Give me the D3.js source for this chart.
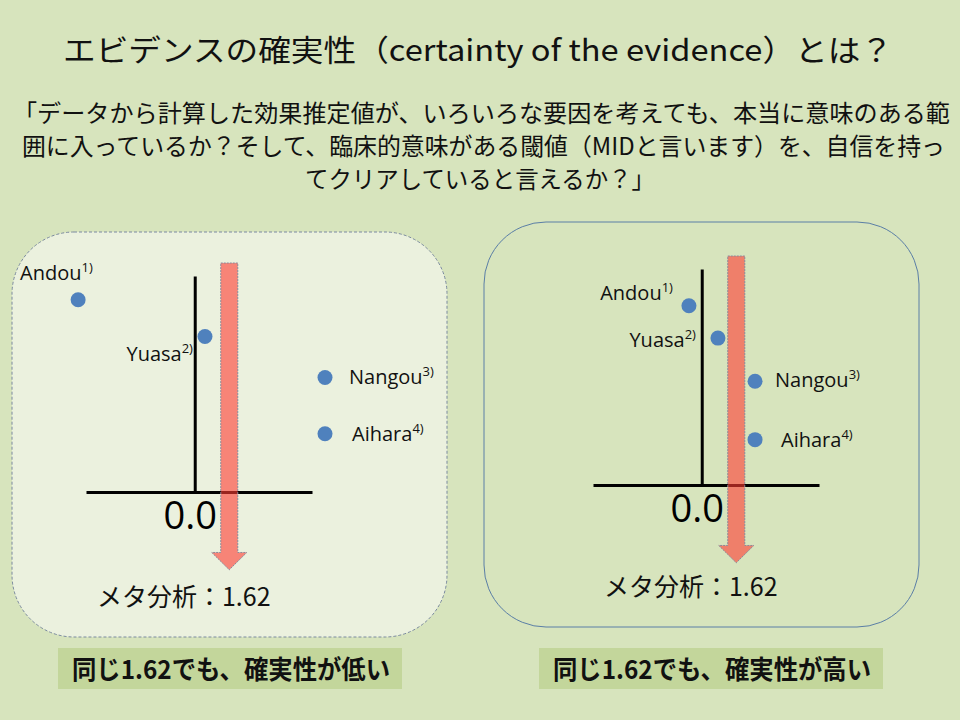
<!DOCTYPE html>
<html>
    <head>
        <meta charset="utf-8">
        <title>エビデンスの確実性</title>
        <script src="https://cdn.jsdelivr.net/npm/d3@7"></script>
        <style>
            body { margin: 0; background: #d7e4bd; }
            svg { display: block; }
        </style>
    </head>
    <body>
        <svg id="svg"></svg>

        <script>
            var WIDTH = 960;
            var HEIGHT = 720;
            var JP = "'Noto Sans CJK JP', sans-serif";
            var EN = "'Open Sans', sans-serif";

            // data
            var studies = ["Andou", "Yuasa", "Nangou", "Aihara"];
            var refs = ["1)", "2)", "3)", "4)"];
            var lowEffects = [-5.47, 0.48, 6.11, 6.11];   // left panel: spread out
            var lowRows = [1.1, 2.8, 4.7, 7.3];
            var highEffects = [-0.6, 0.76, 2.5, 2.5];     // right panel: close together
            var highRows = [1.7, 3.2, 5.2, 7.9];
            var metaValue = 1.62;
            var axisTicks = [0];
            var xDomain = [-5.1, 5.5];
            var yDomain = [0, 10];

            var title = "エビデンスの確実性（certainty of the evidence）とは？";
            var quoteLines = [
                "「データから計算した効果推定値が、いろいろな要因を考えても、本当に意味のある範",
                "囲に入っているか？そして、臨床的意味がある閾値（MIDと言います）を、自信を持っ",
                "てクリアしていると言えるか？」"
            ];
            var captions = ["同じ1.62でも、確実性が低い", "同じ1.62でも、確実性が高い"];

            var svg = d3.select('#svg')
                        .attr('width', WIDTH)
                        .attr('height', HEIGHT);

            svg.append('rect')
               .attr('width', WIDTH).attr('height', HEIGHT)
               .attr('fill', '#d7e4bd');

            svg.append('text')
               .text(title)
               .attr('x', 63).attr('y', 61)
               .attr('textLength', 830).attr('lengthAdjust', 'spacingAndGlyphs')
               .attr('font-family', JP).attr('font-size', '30px')
               .attr('fill', '#111');

            var quoteX = [13, 22, 305];
            var quoteW = [937, 923, 350];
            svg.selectAll('text.quote')
               .data(quoteLines)
               .enter()
               .append('text')
               .attr('class', 'quote')
               .text(function(d){ return d; })
               .attr('x', function(d,i){ return quoteX[i]; })
               .attr('y', function(d,i){ return 122 + i*33; })
               .attr('textLength', function(d,i){ return quoteW[i]; })
               .attr('lengthAdjust', 'spacingAndGlyphs')
               .attr('font-family', JP).attr('font-size', '24px')
               .attr('fill', '#111');

            var panels = [
                {box: [12, 232], fill: '#ebf1de', stroke: '#7b8aa0', dash: '3,2',
                 x0: 86, y0: 276, effects: lowEffects, rows: lowRows,
                 labelDx: [-58, -12, 24, 27], labelDy: [-20, 25, 6, 7],
                 labelAnchor: ['start', 'end', 'start', 'start'],
                 metaY: 114, caption: captions[0], capBox: [58, 648]},
                {box: [484, 222], fill: '#d7e4bd', stroke: '#5a7ea6', dash: null,
                 x0: 593, y0: 269, effects: highEffects, rows: highRows,
                 labelDx: [-16, -22, 20, 26], labelDy: [-6, 9, 6, 7],
                 labelAnchor: ['end', 'end', 'start', 'start'],
                 metaY: 111, caption: captions[1], capBox: [539, 648]}
            ];

            panels.forEach(function(p){
                var g = svg.append('g');

                g.append('rect')
                 .attr('x', p.box[0]).attr('y', p.box[1])
                 .attr('width', 435).attr('height', 405)
                 .attr('rx', 62).attr('ry', 62)
                 .attr('fill', p.fill)
                 .attr('stroke', p.stroke).attr('stroke-width', 1)
                 .attr('stroke-dasharray', p.dash);

                var x = d3.scaleLinear().domain(xDomain).range([p.x0, p.x0 + 226]);
                var y = d3.scaleLinear().domain(yDomain).range([p.y0, p.y0 + 216]);

                // baseline axis with the single 0.0 tick
                var xAxis = g.append('g')
                 .attr('transform', 'translate(0,' + y(yDomain[1]) + ')')
                 .call(d3.axisBottom(x).tickValues(axisTicks)
                         .tickFormat(d3.format('.1f')).tickSize(0).tickSizeOuter(0));
                xAxis.select('.domain').attr('stroke', '#000').attr('stroke-width', 3);
                xAxis.selectAll('text')
                     .attr('font-family', EN).attr('font-size', '38px')
                     .attr('fill', '#000')
                     .attr('dy', null).attr('y', 37).attr('dx', -5);

                // vertical line of no effect
                var yAxis = g.append('g')
                 .attr('transform', 'translate(' + x(0) + ',0)')
                 .call(d3.axisLeft(y).tickValues([]).tickSizeOuter(0));
                yAxis.select('.domain').attr('stroke', '#000').attr('stroke-width', 3);

                // points
                g.selectAll('circle')
                 .data(p.effects)
                 .enter()
                 .append('circle')
                 .attr('cx', function(d){ return x(d); })
                 .attr('cy', function(d,i){ return y(p.rows[i]); })
                 .attr('r', 7.5)
                 .attr('fill', '#4f81bd');

                var labels = g.selectAll('text.study')
                 .data(studies)
                 .enter()
                 .append('text')
                 .attr('class', 'study')
                 .attr('x', function(d,i){ return x(p.effects[i]) + p.labelDx[i]; })
                 .attr('y', function(d,i){ return y(p.rows[i]) + p.labelDy[i]; })
                 .attr('text-anchor', function(d,i){ return p.labelAnchor[i]; })
                 .attr('font-family', EN).attr('font-size', '20px')
                 .attr('fill', '#111');
                labels.append('tspan').text(function(d){ return d; });
                labels.append('tspan')
                      .text(function(d,i){ return refs[i]; })
                      .attr('font-size', '13px').attr('dy', -8);

                // meta-analysis arrow
                var ax = x(metaValue);
                var top = y(-0.6), neck = y(12.8), tip = y(13.6);
                var arrow = d3.path();
                arrow.moveTo(ax - 8.5, top);
                arrow.lineTo(ax + 8.5, top);
                arrow.lineTo(ax + 8.5, neck);
                arrow.lineTo(ax + 17.5, neck);
                arrow.lineTo(ax, tip);
                arrow.lineTo(ax - 17.5, neck);
                arrow.lineTo(ax - 8.5, neck);
                arrow.closePath();
                g.append('path')
                 .attr('d', arrow.toString())
                 .attr('fill', 'rgb(255,60,50)').attr('fill-opacity', 0.6)
                 .attr('stroke', '#8a8a9a').attr('stroke-width', 1)
                 .attr('stroke-dasharray', '2,1');

                g.append('text')
                 .text('メタ分析：' + metaValue)
                 .attr('x', x(0) - 11).attr('y', y(yDomain[1]) + p.metaY)
                 .attr('text-anchor', 'middle')
                 .attr('font-family', JP).attr('font-size', '25px')
                 .attr('fill', '#111');

                // caption under the panel
                g.append('rect')
                 .attr('x', p.capBox[0]).attr('y', p.capBox[1])
                 .attr('width', 344).attr('height', 41)
                 .attr('fill', '#c3d69b');
                g.append('text')
                 .text(p.caption)
                 .attr('x', p.capBox[0] + 14).attr('y', p.capBox[1] + 31)
                 .attr('textLength', 318).attr('lengthAdjust', 'spacingAndGlyphs')
                 .attr('font-family', JP).attr('font-size', '26px')
                 .attr('font-weight', 'bold')
                 .attr('fill', '#111');
            });
        </script>
    </body>
</html>
